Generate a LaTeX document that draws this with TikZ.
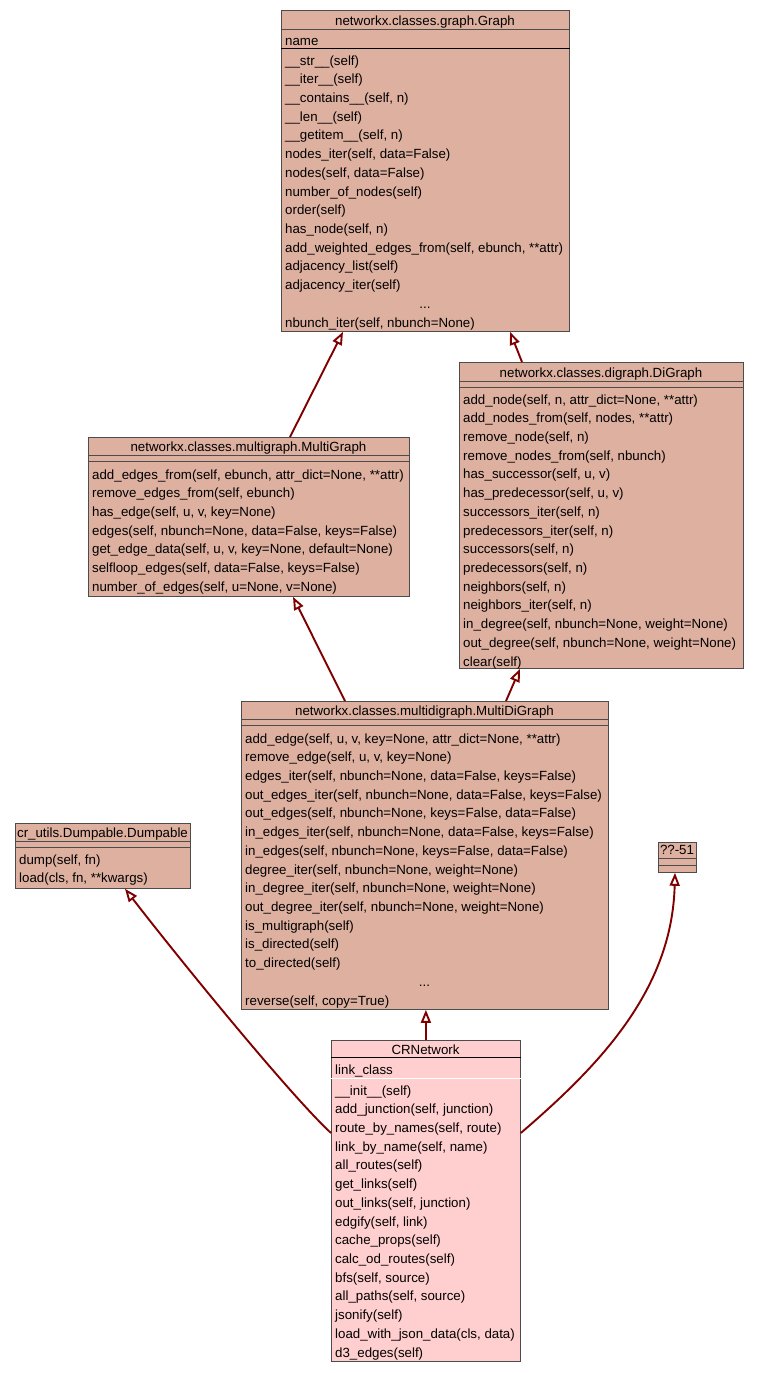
\documentclass[tikz,border=0pt]{standalone}
\usepackage{fontspec}
\setmainfont{Liberation Sans}
\usetikzlibrary{arrows.meta}

\definecolor{clsfill}{RGB}{222,176,160}
\definecolor{mainfill}{RGB}{255,206,206}
\definecolor{arrowred}{RGB}{128,0,0}

\begin{document}
\begin{tikzpicture}[x=1pt, y=-1pt,
    cls/.style={draw=black!70, fill=clsfill, line width=0.8pt, inner sep=0pt, anchor=north west},
    ttl/.style={inner sep=0pt, anchor=base, font=\fontsize{13.3}{16}\selectfont},
    row/.style={inner sep=0pt, anchor=base west, font=\fontsize{13.3}{16}\selectfont},
    sep/.style={draw=black!70, line width=0.8pt},
    thicksep/.style={draw=black, line width=1.8pt},
    inherit/.style={draw=arrowred, line width=1.9pt, -{Triangle[open, fill=white, length=13pt, width=10pt]}},
]
    \useasboundingbox (0,0) rectangle (759,1373);

    % networkx.classes.graph.Graph
    \node[cls, minimum width=288pt, minimum height=321pt] (graph) at (281,10) {};
    \node[ttl] (graph-t) at (425,25) {networkx.classes.graph.Graph};
    \draw[sep] ([yshift=-19.5pt]graph.north west) -- ([yshift=-19.5pt]graph.north east);
    \node[row] (graph-a) at (285,45) {name};
    \draw[thicksep] ([yshift=-38.5pt]graph.north west) -- ([yshift=-38.5pt]graph.north east);
    \foreach \m [count=\i from 0] in {\_\_str\_\_(self), \_\_iter\_\_(self), {\_\_contains\_\_(self, n)},
        \_\_len\_\_(self), {\_\_getitem\_\_(self, n)}, {nodes\_iter(self, data=False)}, {nodes(self, data=False)},
        number\_of\_nodes(self), order(self), {has\_node(self, n)}, {add\_weighted\_edges\_from(self, ebunch, **attr)},
        adjacency\_list(self), adjacency\_iter(self)}
        \node[row] (graph-m\i) at (285,65+18.72*\i) {\m};
    \node[ttl] (graph-dots) at (425,65+18.72*13) {...};
    \node[row] (graph-last) at (285,65+18.72*14) {nbunch\_iter(self, nbunch=None)};

    % networkx.classes.digraph.DiGraph
    \node[cls, minimum width=284pt, minimum height=306pt] (digraph) at (459,362) {};
    \node[ttl] (digraph-t) at (601,377) {networkx.classes.digraph.DiGraph};
    \draw[sep] ([yshift=-19pt]digraph.north west) -- ([yshift=-19pt]digraph.north east);
    \draw[sep] ([yshift=-25.5pt]digraph.north west) -- ([yshift=-25.5pt]digraph.north east);
    \foreach \m [count=\i from 0] in {{add\_node(self, n, attr\_dict=None, **attr)}, {add\_nodes\_from(self, nodes, **attr)},
        {remove\_node(self, n)}, {remove\_nodes\_from(self, nbunch)}, {has\_successor(self, u, v)},
        {has\_predecessor(self, u, v)}, {successors\_iter(self, n)}, {predecessors\_iter(self, n)},
        {successors(self, n)}, {predecessors(self, n)}, {neighbors(self, n)}, {neighbors\_iter(self, n)},
        {in\_degree(self, nbunch=None, weight=None)}, {out\_degree(self, nbunch=None, weight=None)}, clear(self)}
        \node[row] (digraph-m\i) at (463,404+18.72*\i) {\m};

    % networkx.classes.multigraph.MultiGraph
    \node[cls, minimum width=321pt, minimum height=159pt] (multigraph) at (88,437) {};
    \node[ttl] (multigraph-t) at (248.5,451) {networkx.classes.multigraph.MultiGraph};
    \draw[sep] ([yshift=-18pt]multigraph.north west) -- ([yshift=-18pt]multigraph.north east);
    \draw[sep] ([yshift=-24.5pt]multigraph.north west) -- ([yshift=-24.5pt]multigraph.north east);
    \foreach \m [count=\i from 0] in {{add\_edges\_from(self, ebunch, attr\_dict=None, **attr)},
        {remove\_edges\_from(self, ebunch)}, {has\_edge(self, u, v, key=None)},
        {edges(self, nbunch=None, data=False, keys=False)}, {get\_edge\_data(self, u, v, key=None, default=None)},
        {selfloop\_edges(self, data=False, keys=False)}, {number\_of\_edges(self, u=None, v=None)}}
        \node[row] (multigraph-m\i) at (92,479+18.72*\i) {\m};

    % networkx.classes.multidigraph.MultiDiGraph
    \node[cls, minimum width=367pt, minimum height=308pt] (multidigraph) at (241,701) {};
    \node[ttl] (multidigraph-t) at (424.5,715) {networkx.classes.multidigraph.MultiDiGraph};
    \draw[sep] ([yshift=-18pt]multidigraph.north west) -- ([yshift=-18pt]multidigraph.north east);
    \draw[sep] ([yshift=-24.5pt]multidigraph.north west) -- ([yshift=-24.5pt]multidigraph.north east);
    \foreach \m [count=\i from 0] in {{add\_edge(self, u, v, key=None, attr\_dict=None, **attr)},
        {remove\_edge(self, u, v, key=None)}, {edges\_iter(self, nbunch=None, data=False, keys=False)},
        {out\_edges\_iter(self, nbunch=None, data=False, keys=False)}, {out\_edges(self, nbunch=None, keys=False, data=False)},
        {in\_edges\_iter(self, nbunch=None, data=False, keys=False)}, {in\_edges(self, nbunch=None, keys=False, data=False)},
        {degree\_iter(self, nbunch=None, weight=None)}, {in\_degree\_iter(self, nbunch=None, weight=None)},
        {out\_degree\_iter(self, nbunch=None, weight=None)}, is\_multigraph(self), is\_directed(self), to\_directed(self)}
        \node[row] (multidigraph-m\i) at (245,743+18.72*\i) {\m};
    \node[ttl] (multidigraph-dots) at (424.5,743+18.72*13) {...};
    \node[row] (multidigraph-last) at (245,743+18.72*14) {reverse(self, copy=True)};

    % cr_utils.Dumpable.Dumpable
    \node[cls, minimum width=175pt, minimum height=65pt] (dumpable) at (15,823) {};
    \node[ttl] (dumpable-t) at (102.5,837) {cr\_utils.Dumpable.Dumpable};
    \draw[sep] ([yshift=-18pt]dumpable.north west) -- ([yshift=-18pt]dumpable.north east);
    \draw[sep] ([yshift=-24.5pt]dumpable.north west) -- ([yshift=-24.5pt]dumpable.north east);
    \node[row] (dumpable-m0) at (19,864) {dump(self, fn)};
    \node[row] (dumpable-m1) at (19,882.7) {load(cls, fn, **kwargs)};

    % ??-51
    \node[cls, minimum width=38pt, minimum height=30pt] (q51) at (658,842) {};
    \node[ttl] (q51-t) at (677,854) {??-51};
    \draw[sep] ([yshift=-16.5pt]q51.north west) -- ([yshift=-16.5pt]q51.north east);
    \draw[sep] ([yshift=-23pt]q51.north west) -- ([yshift=-23pt]q51.north east);

    % CRNetwork
    \node[cls, fill=mainfill, minimum width=189pt, minimum height=321pt] (crnet) at (331,1040) {};
    \node[ttl] (crnet-t) at (425.5,1054) {CRNetwork};
    \draw[thicksep] ([yshift=-17.5pt]crnet.north west) -- ([yshift=-17.5pt]crnet.north east);
    \node[row] (crnet-a) at (335,1074) {link\_class};
    \draw[draw=white, line width=1pt] ([yshift=-38.5pt]crnet.north west) -- ([yshift=-38.5pt]crnet.north east);
    \foreach \m [count=\i from 0] in {\_\_init\_\_(self), {add\_junction(self, junction)}, {route\_by\_names(self, route)},
        {link\_by\_name(self, name)}, all\_routes(self), get\_links(self), {out\_links(self, junction)},
        {edgify(self, link)}, cache\_props(self), calc\_od\_routes(self), {bfs(self, source)},
        {all\_paths(self, source)}, jsonify(self), {load\_with\_json\_data(cls, data)}, d3\_edges(self)}
        \node[row] (crnet-m\i) at (335,1095+18.72*\i) {\m};

    % inheritance
    \draw[inherit] ([xshift=202pt]multigraph.north west) -- ([xshift=62pt]graph.south west);
    \draw[inherit] ([xshift=63pt]digraph.north west) -- ([xshift=229pt]graph.south west);
    \draw[inherit] ([xshift=104pt]multidigraph.north west) -- ([xshift=205pt]multigraph.south west);
    \draw[inherit] ([xshift=265pt]multidigraph.north west) -- ([xshift=61pt]digraph.south west);
    \draw[inherit] (crnet.north) -- (crnet.north |- multidigraph.south);
    \draw[inherit] ([yshift=-93pt]crnet.north west) .. controls (290,1095) and (180,960) .. ([xshift=110pt]dumpable.south west);
    \draw[inherit] ([yshift=-93pt]crnet.north east) .. controls (600,1065) and (672,990) .. ([xshift=17pt]q51.south west);
\end{tikzpicture}
\end{document}
